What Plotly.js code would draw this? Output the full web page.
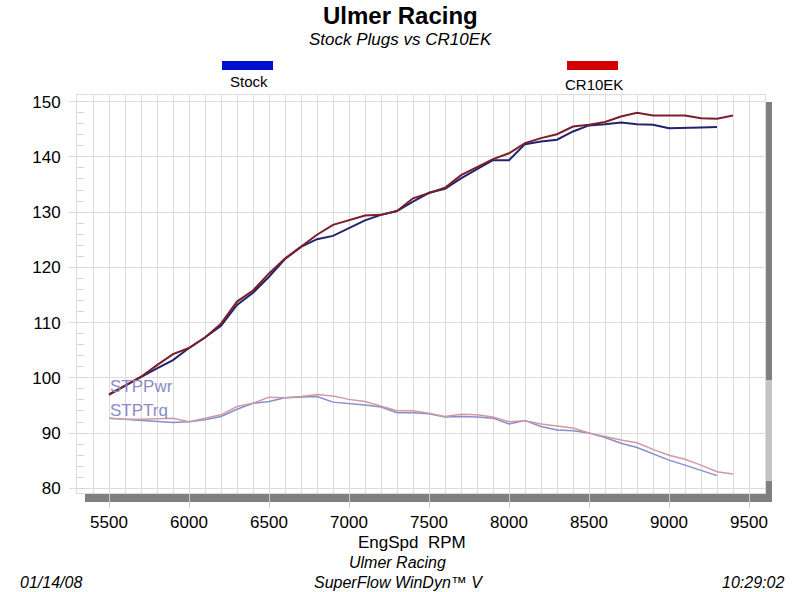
<!DOCTYPE html>
<html>
<head>
<meta charset="utf-8">
<script src="https://cdn.plot.ly/plotly-3.0.1.min.js"></script>
<style>html,body{margin:0;padding:0;background:#fff;}#chart{width:800px;height:592px;}</style>
</head>
<body>
<div id="chart"></div>
<script>
// ---- data ----
const rpmStock = [5500,5600,5700,5800,5900,6000,6100,6200,6300,6400,6500,6600,6700,6800,6900,7000,7100,7200,7300,7400,7500,7600,7700,7800,7900,8000,8100,8200,8300,8400,8500,8600,8700,8800,8900,9000,9100,9200,9300];
const rpmCR = [5500,5600,5700,5800,5900,6000,6100,6200,6300,6400,6500,6600,6700,6800,6900,7000,7100,7200,7300,7400,7500,7600,7700,7800,7900,8000,8100,8200,8300,8400,8500,8600,8700,8800,8900,9000,9100,9200,9300,9400];
const pwrStock = [97.0,98.6,100.2,101.7,103.2,105.4,107.3,109.4,113.2,115.4,118.3,121.5,123.7,125.1,125.7,127.1,128.5,129.5,130.2,131.9,133.5,134.2,136.1,137.8,139.4,139.4,142.3,142.8,143.1,144.6,145.7,145.9,146.2,145.9,145.8,145.2,145.2,145.3,145.4];
const pwrCR = [96.9,98.5,100.2,102.3,104.3,105.4,107.3,109.8,113.8,115.8,118.9,121.6,123.8,125.9,127.7,128.6,129.4,129.5,130.2,132.5,133.5,134.4,136.7,138.2,139.6,140.65,142.5,143.4,144.1,145.5,145.8,146.3,147.3,148.0,147.5,147.5,147.5,147.0,146.9,147.5];
const trqStock = [92.7,92.5,92.3,92.05,91.9,92.05,92.4,93.0,94.3,95.4,95.7,96.4,96.5,96.6,95.6,95.4,95.1,94.7,93.7,93.7,93.5,92.9,93.0,92.9,92.7,91.65,92.25,91.2,90.55,90.4,90.0,89.2,88.15,87.4,86.3,85.1,84.2,83.3,82.3];
const trqCR = [92.7,92.5,92.5,92.55,92.7,92.05,92.7,93.3,94.8,95.4,96.5,96.4,96.6,97.0,96.7,96.1,95.7,94.9,94.05,94.05,93.6,93.0,93.4,93.3,92.9,92.05,92.25,91.65,91.3,90.9,90.0,89.35,88.75,88.25,87.05,86.0,85.25,84.2,83.0,82.6];
const xTicks = [5500,6000,6500,7000,7500,8000,8500,9000,9500];
const yTicks = [80,90,100,110,120,130,140,150];
const seriesNames = ["Stock","CR10EK"];

// ---- layout helpers (pixel -> paper) ----
const L = 77, R = 765, T = 95, B = 493;
const px = x => (x - L) / (R - L);
const py = y => (B - y) / (B - T);
const FONT = "Liberation Sans, Arial, sans-serif";

const traces = [
  {x: rpmStock, y: trqStock, name: "Stock STPTrq", mode: "lines", line: {color: "#8a8ccc", width: 1.5}},
  {x: rpmCR, y: trqCR, name: "CR10EK STPTrq", mode: "lines", line: {color: "#d09aa4", width: 1.5}},
  {x: rpmStock, y: pwrStock, name: "Stock STPPwr", mode: "lines", line: {color: "#22226e", width: 2}},
  {x: rpmCR, y: pwrCR, name: "CR10EK STPPwr", mode: "lines", line: {color: "#7c1e2a", width: 2}}
];

const gridC = "#dcdcdc";
const shapes = [
  {type: "rect", xref: "paper", yref: "paper", x0: px(85), x1: px(772), y0: py(502), y1: py(494), fillcolor: "#7f7f7f", line: {width: 0}, layer: "below"},
  {type: "rect", xref: "paper", yref: "paper", x0: px(765), x1: px(772), y0: py(380), y1: py(102), fillcolor: "#7f7f7f", line: {width: 0}, layer: "below"},
  {type: "rect", xref: "paper", yref: "paper", x0: px(765), x1: px(772), y0: py(481), y1: py(380), fillcolor: "#c4c4c4", line: {width: 0}, layer: "below"},
  {type: "rect", xref: "paper", yref: "paper", x0: px(765), x1: px(772), y0: py(502), y1: py(481), fillcolor: "#7f7f7f", line: {width: 0}, layer: "below"},
  {type: "rect", xref: "paper", yref: "paper", x0: px(222), x1: px(273), y0: py(70), y1: py(61), fillcolor: "#0010d0", line: {width: 0}},
  {type: "rect", xref: "paper", yref: "paper", x0: px(567), x1: px(618), y0: py(70), y1: py(61), fillcolor: "#d40000", line: {width: 0}}
];

function ann(text, x, y, size, opts) {
  return Object.assign({text: text, xref: "paper", yref: "paper", x: px(x), y: py(y), showarrow: false,
    xanchor: "center", yanchor: "middle", font: {family: FONT, size: size, color: "#000"}}, opts || {});
}
const annotations = [
  ann("<b>Ulmer Racing</b>", 400, 16, 24),
  ann("<i>Stock Plugs vs CR10EK</i>", 400, 39, 17),
  ann(seriesNames[0], 249, 82, 15),
  ann(seriesNames[1], 594, 84, 15),
  ann("STPPwr", 108, 386, 17, {xanchor: "left", font: {family: FONT, size: 17, color: "#8a8cc8"}}),
  ann("STPTrq", 108, 410, 17, {xanchor: "left", font: {family: FONT, size: 17, color: "#8a8cc8"}}),
  ann("EngSpd  RPM", 412, 542, 17),
  ann("<i>Ulmer Racing</i>", 397, 562, 16),
  ann("<i>SuperFlow WinDyn™ V</i>", 398, 582, 16),
  ann("<i>01/14/08</i>", 18, 582, 16, {xanchor: "left"}),
  ann("<i>10:29:02</i>", 786, 582, 16, {xanchor: "right"})
];

const layout = {
  width: 800, height: 592,
  margin: {l: L, r: 800 - R, t: T, b: 592 - B, pad: 0},
  paper_bgcolor: "#fff", plot_bgcolor: "#fff",
  showlegend: false,
  font: {family: FONT, size: 17, color: "#000"},
  xaxis: {
    range: [5300, 9600], tickvals: xTicks, ticktext: xTicks.map(String),
    showgrid: true, gridcolor: gridC, gridwidth: 1,
    minor: {dtick: 100, tick0: 5300, showgrid: true, gridcolor: gridC, gridwidth: 1, ticks: ""},
    ticks: "outside", ticklen: 14, tickcolor: "#c8c8c8", tickwidth: 1,
    showline: true, linecolor: gridC, mirror: true, zeroline: false,
    tickfont: {family: FONT, size: 17, color: "#000"}
  },
  yaxis: {
    range: [79.15, 151.2], tickvals: yTicks, ticktext: yTicks.map(String),
    showgrid: true, gridcolor: gridC, gridwidth: 1,
    ticks: "outside", ticklen: 7, tickcolor: gridC, tickwidth: 1,
    minor: {dtick: 2, tick0: 80, ticks: "inside", ticklen: 7, tickcolor: "#d4d4d4", showgrid: false},
    showline: true, linecolor: gridC, mirror: true, zeroline: false,
    ticklabelstandoff: 5,
    tickfont: {family: FONT, size: 17, color: "#000"}
  },
  shapes: shapes,
  annotations: annotations
};

Plotly.newPlot("chart", traces, layout, {staticPlot: true, displayModeBar: false});
</script>
</body>
</html>
